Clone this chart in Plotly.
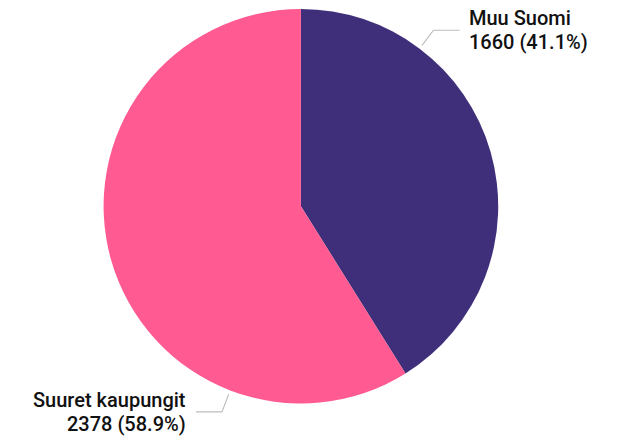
import math
import plotly.graph_objects as go

# Data
categories = ["Muu Suomi", "Suuret kaupungit"]
values = [1660, 2378]
colors = ["#3f2f7a", "#ff5a91"]

# Layout/style constants
W, H = 617, 438
CX, CY, R = 300.9, 206.2, 197.3
label_angles = [37.0, 201.0]          # where leader lines leave the pie (deg, clockwise from 12 o'clock)
LINE_START, LINE_BEND, LINE_HORIZ, TEXT_GAP = 4, 23, 26, 8
LINE_HALF = 12.2
FONT = "Roboto"
FS = 20

total = sum(values)


def px(x, y):
    return x / W, (H - y) / H


fig = go.Figure(
    go.Pie(
        labels=categories,
        values=values,
        marker=dict(colors=colors, line=dict(width=0)),
        sort=False,
        direction="clockwise",
        rotation=0,
        textinfo="none",
        hoverinfo="label+value+percent",
        domain=dict(x=[(CX - R) / W, (CX + R) / W], y=[(H - CY - R) / H, (H - CY + R) / H]),
        showlegend=False,
    )
)

shapes = []
annotations = []
for name, val, ang in zip(categories, values, label_angles):
    t = math.radians(ang)
    s, c = math.sin(t), math.cos(t)
    x0, y0 = CX + (R + LINE_START) * s, CY - (R + LINE_START) * c
    x1, y1 = CX + (R + LINE_BEND) * s, CY - (R + LINE_BEND) * c
    side = 1 if s >= 0 else -1
    x2, y2 = x1 + side * LINE_HORIZ, y1
    path = "M {} {} L {} {} L {} {}".format(*px(x0, y0), *px(x1, y1), *px(x2, y2))
    shapes.append(dict(type="path", path=path, xref="paper", yref="paper",
                       line=dict(color="#bdbdbd", width=1.2)))
    pct = 100 * val / total
    lines = [name, f"{val} ({pct:.1f}%)"]
    tx = x2 + side * TEXT_GAP
    for i, txt in enumerate(lines):
        ty = y1 + (-LINE_HALF if i == 0 else LINE_HALF)
        ax, ay = px(tx, ty)
        annotations.append(dict(
            x=ax, y=ay, xref="paper", yref="paper", text=txt, showarrow=False,
            xanchor="left" if side > 0 else "right", yanchor="middle",
            font=dict(family=FONT, size=FS, color="#111111", weight=500),
        ))

fig.update_layout(
    width=W, height=H,
    margin=dict(l=0, r=0, t=0, b=0),
    paper_bgcolor="white",
    plot_bgcolor="white",
    shapes=shapes,
    annotations=annotations,
)

fig.write_html("out.html", config={"displayModeBar": False},
               post_script="document.body.style.margin='0';")
